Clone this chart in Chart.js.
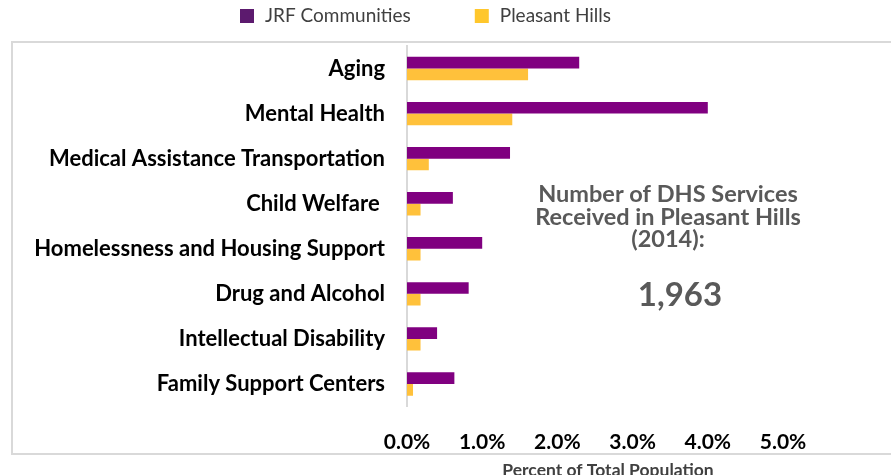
<!DOCTYPE html>
<html>
<head>
<meta charset="utf-8">
<script src="https://cdn.jsdelivr.net/npm/chart.js@4.4.1/dist/chart.umd.min.js"></script>
<style>
  html, body { margin: 0; padding: 0; background: #fff; }
  #wrap { width: 891px; height: 475px; position: relative; }
</style>
</head>
<body>
<div id="wrap"><canvas id="dhsChart"></canvas></div>
<script>
// 데이터
const categories = [
  'Aging',
  'Mental Health',
  'Medical Assistance Transportation',
  'Child Welfare ',
  'Homelessness and Housing Support',
  'Drug and Alcohol',
  'Intellectual Disability',
  'Family Support Centers',
];
const jrfValues = [2.29, 4.0, 1.37, 0.61, 1.0, 0.82, 0.40, 0.63];
const pleasantValues = [1.61, 1.40, 0.29, 0.18, 0.18, 0.18, 0.18, 0.08];
const xTicks = [0, 1, 2, 3, 4, 5];
const legendColors = ['#5c1a6e', '#ffc72c'];

const FONT = 'Lato, "Open Sans", sans-serif';

// 테두리, 범례, 안내 텍스트 직접 그리기
const extras = {
  id: 'extras',
  beforeDraw(chart) {
    const ctx = chart.ctx;
    ctx.save();
    ctx.strokeStyle = '#d9d9d9';
    ctx.lineWidth = 2;
    ctx.strokeRect(12, 42, 900, 412);
    ctx.restore();
  },
  afterDraw(chart) {
    const ctx = chart.ctx;
    ctx.save();

    // 범례
    ctx.font = `19px ${FONT}`;
    ctx.textBaseline = 'middle';
    ctx.textAlign = 'left';
    let x = 240;
    chart.data.datasets.forEach((ds, i) => {
      ctx.fillStyle = legendColors[i];
      ctx.fillRect(x, 9, 14, 14);
      ctx.fillStyle = '#404040';
      ctx.fillText(ds.label, x + 25, 16);
      x += 25 + ctx.measureText(ds.label).width + 64;
    });

    // 가운데 텍스트
    ctx.fillStyle = '#595959';
    ctx.textAlign = 'center';
    ctx.textBaseline = 'alphabetic';
    ctx.font = `bold 23.5px ${FONT}`;
    ctx.fillText('Number of DHS Services', 668, 202);
    ctx.fillText('Received in Pleasant Hills', 668, 225);
    ctx.fillText('(2014):', 668, 247);
    ctx.font = `bold 33px ${FONT}`;
    ctx.fillText('1,963', 680, 306);

    // x축 제목
    ctx.fillStyle = '#404040';
    ctx.font = `bold 17.5px ${FONT}`;
    ctx.fillText('Percent of Total Population', 608, 476);
    ctx.restore();
  },
};

const ctx = document.getElementById('dhsChart').getContext('2d');
new Chart(ctx, {
  type: 'bar',
  data: {
    labels: categories,
    datasets: [
      { label: 'JRF Communities', data: jrfValues, backgroundColor: '#800080' },
      { label: 'Pleasant Hills', data: pleasantValues, backgroundColor: '#ffc13b' },
    ],
  },
  options: {
    indexAxis: 'y',
    responsive: true,
    maintainAspectRatio: false,
    animation: false,
    datasets: {
      bar: { categoryPercentage: 0.52, barPercentage: 1 },
    },
    layout: { padding: { left: 12, right: 108, top: 46, bottom: 0 } },
    plugins: {
      legend: { display: false },
      tooltip: { enabled: false },
    },
    scales: {
      x: {
        min: 0,
        max: 5,
        afterBuildTicks: (s) => { s.ticks = xTicks.map((v) => ({ value: v })); },
        afterFit: (s) => { s.height = 68.5; },
        grid: { display: false, drawTicks: false },
        border: { display: false },
        ticks: {
          padding: 23,
          color: '#000',
          font: { family: FONT, size: 21, weight: 'bold' },
          callback: (v) => `${Number(v).toFixed(1)}%`,
        },
      },
      y: {
        afterFit: (s) => { s.width = 395; },
        grid: { display: false, drawTicks: false },
        border: { display: true, color: '#d9d9d9', width: 2 },
        ticks: {
          padding: 22,
          color: '#000',
          font: { family: FONT, size: 22, weight: 'bold' },
        },
      },
    },
  },
  plugins: [extras],
});
</script>
</body>
</html>
